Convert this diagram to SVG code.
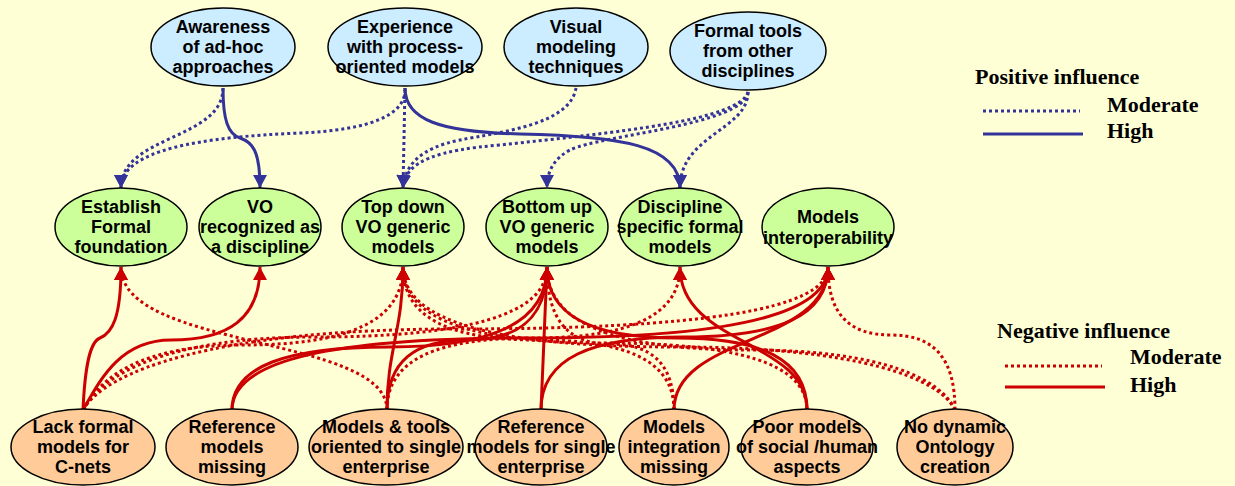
<svg xmlns="http://www.w3.org/2000/svg" width="1235" height="486" viewBox="0 0 1235 486">
  <style>
    .lbl { font-family: "Liberation Sans", Arial, sans-serif; font-weight: bold; font-size: 18px; fill: #000; text-anchor: middle; }
    .leg { font-family: "Liberation Serif", "Times New Roman", serif; font-weight: bold; font-size: 22px; fill: #000; }
    .node { stroke: #000; stroke-width: 1.5; }
    .src { fill: #CCECFF; }
    .goal { fill: #CCFF99; }
    .obst { fill: #FFCC99; }
    .pos { fill: none; stroke: #333399; stroke-width: 3; }
    .neg { fill: none; stroke: #CC0000; stroke-width: 3; }
    .mod { stroke-dasharray: 3 3; }
  </style>
  <defs>
    <marker id="ahPos" markerUnits="userSpaceOnUse" markerWidth="14" markerHeight="14" refX="13" refY="7" orient="auto">
      <path d="M0,0 L13,7 L0,14 z" fill="#333399"/>
    </marker>
    <marker id="ahNeg" markerUnits="userSpaceOnUse" markerWidth="14" markerHeight="14" refX="13" refY="7" orient="auto">
      <path d="M0,0 L13,7 L0,14 z" fill="#CC0000"/>
    </marker>
  </defs>

  <rect x="0" y="0" width="1235" height="486" fill="#FFFFD6"/>

  <!-- connectors -->
  <g id="connectors">
    <!-- positive influence: enablers to goals -->
    <path class="pos mod" marker-end="url(#ahPos)" d="M223,88 C223,140 121,135 121,188"/>
    <path class="pos" marker-end="url(#ahPos)" d="M223,88 C223,120 228,134 240,138 C252,142 260,150 260,188"/>
    <path class="pos mod" marker-end="url(#ahPos)" d="M405,90 C405,115 370,130 300,133 C200,137 121,150 121,188"/>
    <path class="pos mod" marker-end="url(#ahPos)" d="M405,88 L403,188"/>
    <path class="pos" marker-end="url(#ahPos)" d="M405,88 C405,120 440,132 520,134 C620,136 680,145 680,188"/>
    <path class="pos mod" marker-end="url(#ahPos)" d="M576,88 C570,125 500,132 460,140 C420,148 405,165 403,188"/>
    <path class="pos mod" marker-end="url(#ahPos)" d="M748,92 C740,120 620,132 500,145 C440,150 405,160 403,188"/>
    <path class="pos mod" marker-end="url(#ahPos)" d="M748,92 C745,125 600,135 570,150 C555,158 547,170 547,188"/>
    <path class="pos mod" marker-end="url(#ahPos)" d="M748,92 C748,130 680,135 680,188"/>

    <!-- negative influence: obstacles to goals -->
    <path class="neg" marker-end="url(#ahNeg)" d="M83,410 C85,365 90,342 100,338 C112,333 121,318 121,267"/>
    <path class="neg" marker-end="url(#ahNeg)" d="M83,410 C100,380 120,340 171,340 C229,340 260,318 260,267"/>
    <path class="neg mod" marker-end="url(#ahNeg)" d="M83,410 C100,378 140,345 243,345 C347,345 403,322 403,267"/>
    <path class="neg mod" marker-end="url(#ahNeg)" d="M83,410 C102,375 165,337 315,337 C466,337 547,315 547,267"/>
    <path class="neg mod" marker-end="url(#ahNeg)" d="M83,410 C104,372 213,329 455,329 C698,329 828,310 828,267"/>

    <path class="neg" marker-end="url(#ahNeg)" d="M232,410 C232,366 287,347 389,347 C492,347 547,323 547,267"/>
    <path class="neg" marker-end="url(#ahNeg)" d="M232,410 C232,359 336,338 530,338 C724,338 828,316 828,267"/>

    <path class="neg" marker-end="url(#ahNeg)" d="M387,410 C387,350 403,330 403,267"/>
    <path class="neg" marker-end="url(#ahNeg)" d="M387,410 C387,361 415,340 467,340 C519,340 547,318 547,267"/>
    <path class="neg mod" marker-end="url(#ahNeg)" d="M387,410 C387,335 121,350 121,267"/>
    <path class="neg mod" marker-end="url(#ahNeg)" d="M387,410 C387,359 438,338 533,338 C629,338 680,316 680,267"/>

    <path class="neg" marker-end="url(#ahNeg)" d="M541,410 L547,267"/>
    <path class="neg" marker-end="url(#ahNeg)" d="M541,410 C541,358 591,337 684,337 C778,337 828,316 828,267"/>

    <path class="neg mod" marker-end="url(#ahNeg)" d="M674,410 C674,361 627,340 538,340 C450,340 403,318 403,267"/>
    <path class="neg mod" marker-end="url(#ahNeg)" d="M674,410 C674,364 652,344 610,344 C569,344 547,321 547,267"/>
    <path class="neg" marker-end="url(#ahNeg)" d="M674,410 C674,335 828,345 828,267"/>

    <path class="neg" marker-end="url(#ahNeg)" d="M807,410 C807,340 680,345 680,267"/>
    <path class="neg" marker-end="url(#ahNeg)" d="M807,410 C807,359 761,338 677,338 C592,338 547,316 547,267"/>
    <path class="neg mod" marker-end="url(#ahNeg)" d="M807,410 C807,363 736,343 605,343 C474,343 403,320 403,267"/>

    <path class="neg mod" marker-end="url(#ahNeg)" d="M955,410 C940,378 858,347 679,347 C500,347 403,323 403,267"/>
    <path class="neg mod" marker-end="url(#ahNeg)" d="M955,410 C942,380 884,350 751,350 C618,350 547,325 547,267"/>
    <path class="neg mod" marker-end="url(#ahNeg)" d="M955,410 C955,357 933,335 891,335 C850,335 828,315 828,267"/>
  </g>

  <!-- enablers -->
  <g id="awareness">
    <ellipse class="node src" cx="223" cy="47" rx="72" ry="39"/>
    <text class="lbl" x="223" y="33">Awareness</text>
    <text class="lbl" x="223" y="53">of ad-hoc</text>
    <text class="lbl" x="223" y="73">approaches</text>
  </g>
  <g id="experience">
    <ellipse class="node src" cx="405" cy="47" rx="77" ry="39"/>
    <text class="lbl" x="405" y="33">Experience</text>
    <text class="lbl" x="405" y="53">with process-</text>
    <text class="lbl" x="405" y="73">oriented models</text>
  </g>
  <g id="visual">
    <ellipse class="node src" cx="576" cy="47" rx="72" ry="39"/>
    <text class="lbl" x="576" y="33">Visual</text>
    <text class="lbl" x="576" y="53">modeling</text>
    <text class="lbl" x="576" y="73">techniques</text>
  </g>
  <g id="formal-tools">
    <ellipse class="node src" cx="748" cy="51" rx="78" ry="39"/>
    <text class="lbl" x="748" y="37">Formal tools</text>
    <text class="lbl" x="748" y="57">from other</text>
    <text class="lbl" x="748" y="77">disciplines</text>
  </g>

  <!-- goals -->
  <g id="establish">
    <ellipse class="node goal" cx="121" cy="227" rx="66" ry="39"/>
    <text class="lbl" x="121" y="213">Establish</text>
    <text class="lbl" x="121" y="233">Formal</text>
    <text class="lbl" x="121" y="253">foundation</text>
  </g>
  <g id="vo-discipline">
    <ellipse class="node goal" cx="260" cy="227" rx="61" ry="39"/>
    <text class="lbl" x="260" y="213">VO</text>
    <text class="lbl" x="260" y="233">recognized as</text>
    <text class="lbl" x="260" y="253">a discipline</text>
  </g>
  <g id="top-down">
    <ellipse class="node goal" cx="403" cy="227" rx="61" ry="39"/>
    <text class="lbl" x="403" y="213">Top down</text>
    <text class="lbl" x="403" y="233">VO generic</text>
    <text class="lbl" x="403" y="253">models</text>
  </g>
  <g id="bottom-up">
    <ellipse class="node goal" cx="547" cy="227" rx="61" ry="39"/>
    <text class="lbl" x="547" y="213">Bottom up</text>
    <text class="lbl" x="547" y="233">VO generic</text>
    <text class="lbl" x="547" y="253">models</text>
  </g>
  <g id="discipline-specific">
    <ellipse class="node goal" cx="680" cy="227" rx="61" ry="39"/>
    <text class="lbl" x="680" y="213">Discipline</text>
    <text class="lbl" x="680" y="233">specific formal</text>
    <text class="lbl" x="680" y="253">models</text>
  </g>
  <g id="interoperability">
    <ellipse class="node goal" cx="828" cy="227" rx="66" ry="39"/>
    <text class="lbl" x="828" y="223">Models</text>
    <text class="lbl" x="828" y="244">interoperability</text>
  </g>

  <!-- obstacles -->
  <g id="lack-formal">
    <ellipse class="node obst" cx="83" cy="447" rx="72" ry="38"/>
    <text class="lbl" x="83" y="433">Lack formal</text>
    <text class="lbl" x="83" y="453">models for</text>
    <text class="lbl" x="83" y="473">C-nets</text>
  </g>
  <g id="ref-missing">
    <ellipse class="node obst" cx="232" cy="447" rx="66" ry="38"/>
    <text class="lbl" x="232" y="433">Reference</text>
    <text class="lbl" x="232" y="453">models</text>
    <text class="lbl" x="232" y="473">missing</text>
  </g>
  <g id="single-tools">
    <ellipse class="node obst" cx="386" cy="447" rx="77" ry="38"/>
    <text class="lbl" x="386" y="433">Models &amp; tools</text>
    <text class="lbl" x="386" y="453">oriented to single</text>
    <text class="lbl" x="386" y="473">enterprise</text>
  </g>
  <g id="ref-single">
    <ellipse class="node obst" cx="541" cy="447" rx="66" ry="38"/>
    <text class="lbl" x="541" y="433">Reference</text>
    <text class="lbl" x="541" y="453">models for single</text>
    <text class="lbl" x="541" y="473">enterprise</text>
  </g>
  <g id="integration">
    <ellipse class="node obst" cx="674" cy="447" rx="55" ry="38"/>
    <text class="lbl" x="674" y="433">Models</text>
    <text class="lbl" x="674" y="453">integration</text>
    <text class="lbl" x="674" y="473">missing</text>
  </g>
  <g id="social">
    <ellipse class="node obst" cx="807" cy="447" rx="66" ry="38"/>
    <text class="lbl" x="807" y="433">Poor models</text>
    <text class="lbl" x="807" y="453">of social /human</text>
    <text class="lbl" x="807" y="473">aspects</text>
  </g>
  <g id="ontology">
    <ellipse class="node obst" cx="955" cy="447" rx="58" ry="38"/>
    <text class="lbl" x="955" y="433">No dynamic</text>
    <text class="lbl" x="955" y="453">Ontology</text>
    <text class="lbl" x="955" y="473">creation</text>
  </g>

  <!-- legend -->
  <g id="legend">
    <text class="leg" x="975" y="84">Positive influence</text>
    <line class="pos mod" x1="983" y1="111" x2="1080" y2="111"/>
    <text class="leg" x="1107" y="112">Moderate</text>
    <line class="pos" x1="983" y1="134" x2="1083" y2="134"/>
    <text class="leg" x="1107" y="138">High</text>

    <text class="leg" x="997" y="338">Negative influence</text>
    <line class="neg mod" x1="1005" y1="366" x2="1102" y2="366"/>
    <text class="leg" x="1130" y="364">Moderate</text>
    <line class="neg" x1="1005" y1="387" x2="1105" y2="387"/>
    <text class="leg" x="1130" y="392">High</text>
  </g>
</svg>
